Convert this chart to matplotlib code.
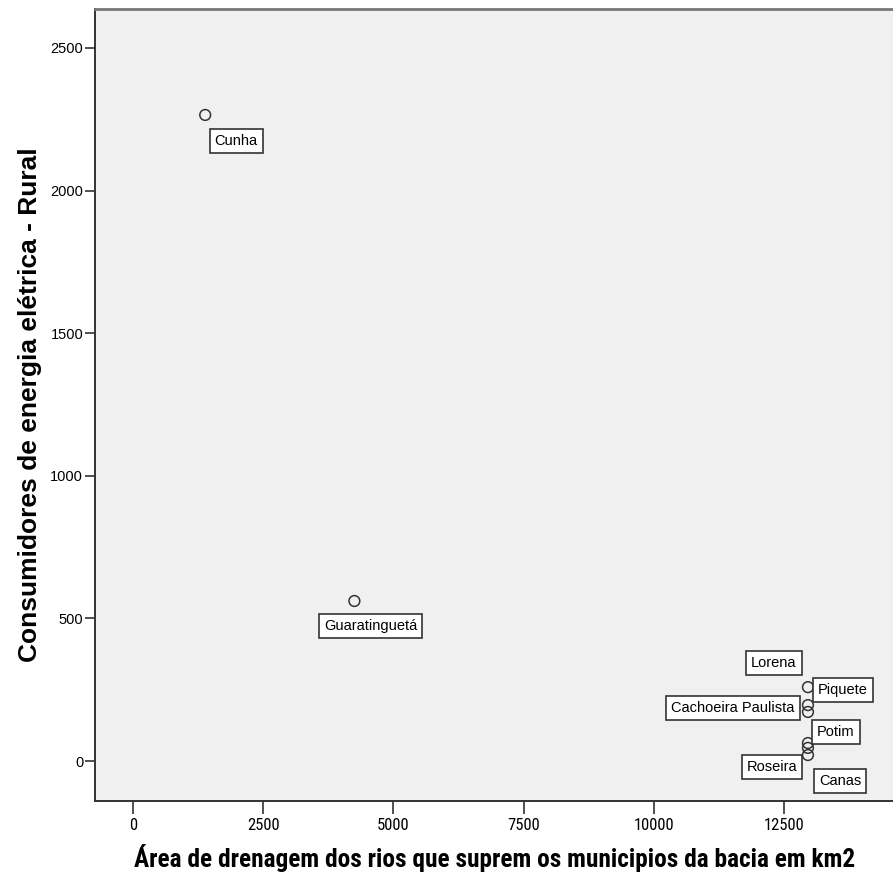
import matplotlib.pyplot as plt

# municipios da bacia - area de drenagem (km2) x consumidores rurais
municipios = ['Cunha', 'Guaratinguetá', 'Lorena', 'Piquete', 'Cachoeira Paulista',
              'Potim', 'Roseira', 'Canas']
area_km2 = [1385, 4250, 12960, 12960, 12960, 12960, 12960, 12960]
consumidores_rural = [2265, 561, 259, 196, 172, 63, 46, 21]

# label offsets in pixels (dx, dy) from each point
offsets = [(31, -26), (16, -25), (-34, 24), (35, 15), (-75, 4), (28, 11), (-36, -19), (32, -26)]

xticks = [0, 2500, 5000, 7500, 10000, 12500]
yticks = [0, 500, 1000, 1500, 2000, 2500]

fig = plt.figure(figsize=(8.93, 8.86), dpi=100)
ax = fig.add_axes([0.1064, 0.096, 0.894, 0.894])
ax.set_facecolor('#f0f0f0')

ax.scatter(area_km2, consumidores_rural, s=60, facecolors='none',
           edgecolors='#333333', linewidths=1.1, zorder=3)

for name, x, y, (dx, dy) in zip(municipios, area_km2, consumidores_rural, offsets):
    ax.annotate(name, (x, y), xytext=(dx, dy), textcoords='offset pixels',
                ha='center', va='center', fontsize=10.5, family='Liberation Sans',
                bbox=dict(boxstyle='square,pad=0.35', fc='white', ec='#333333', lw=1.2),
                zorder=4)

ax.set_xlim(-731, 14600)
ax.set_ylim(-140, 2637)
ax.set_xticks(xticks)
ax.set_yticks(yticks)
ax.set_xticklabels([str(t) for t in xticks], family='Roboto Condensed', fontsize=12)
ax.set_yticklabels([str(t) for t in yticks], family='Liberation Sans', fontsize=10.5)
ax.tick_params(axis='y', direction='out', length=7, width=1.2, color='#333333', pad=1.5)
ax.tick_params(axis='x', direction='out', length=9, width=1.2, color='#333333', pad=3.5)

for s in ax.spines.values():
    s.set_color('#333333')
    s.set_linewidth(1.4)
ax.spines['top'].set_color('#777777')
ax.spines['top'].set_linewidth(2)
ax.spines['right'].set_visible(False)

ax.set_xlabel('Área de drenagem dos rios que suprem os municipios da bacia em km2',
              family='Roboto Condensed', fontweight='bold', fontsize=18.3, labelpad=8)
ax.set_ylabel('Consumidores de energia elétrica - Rural',
              family='Liberation Sans', fontweight='bold', fontsize=19, labelpad=6)

fig.savefig('out.png', dpi=100)
